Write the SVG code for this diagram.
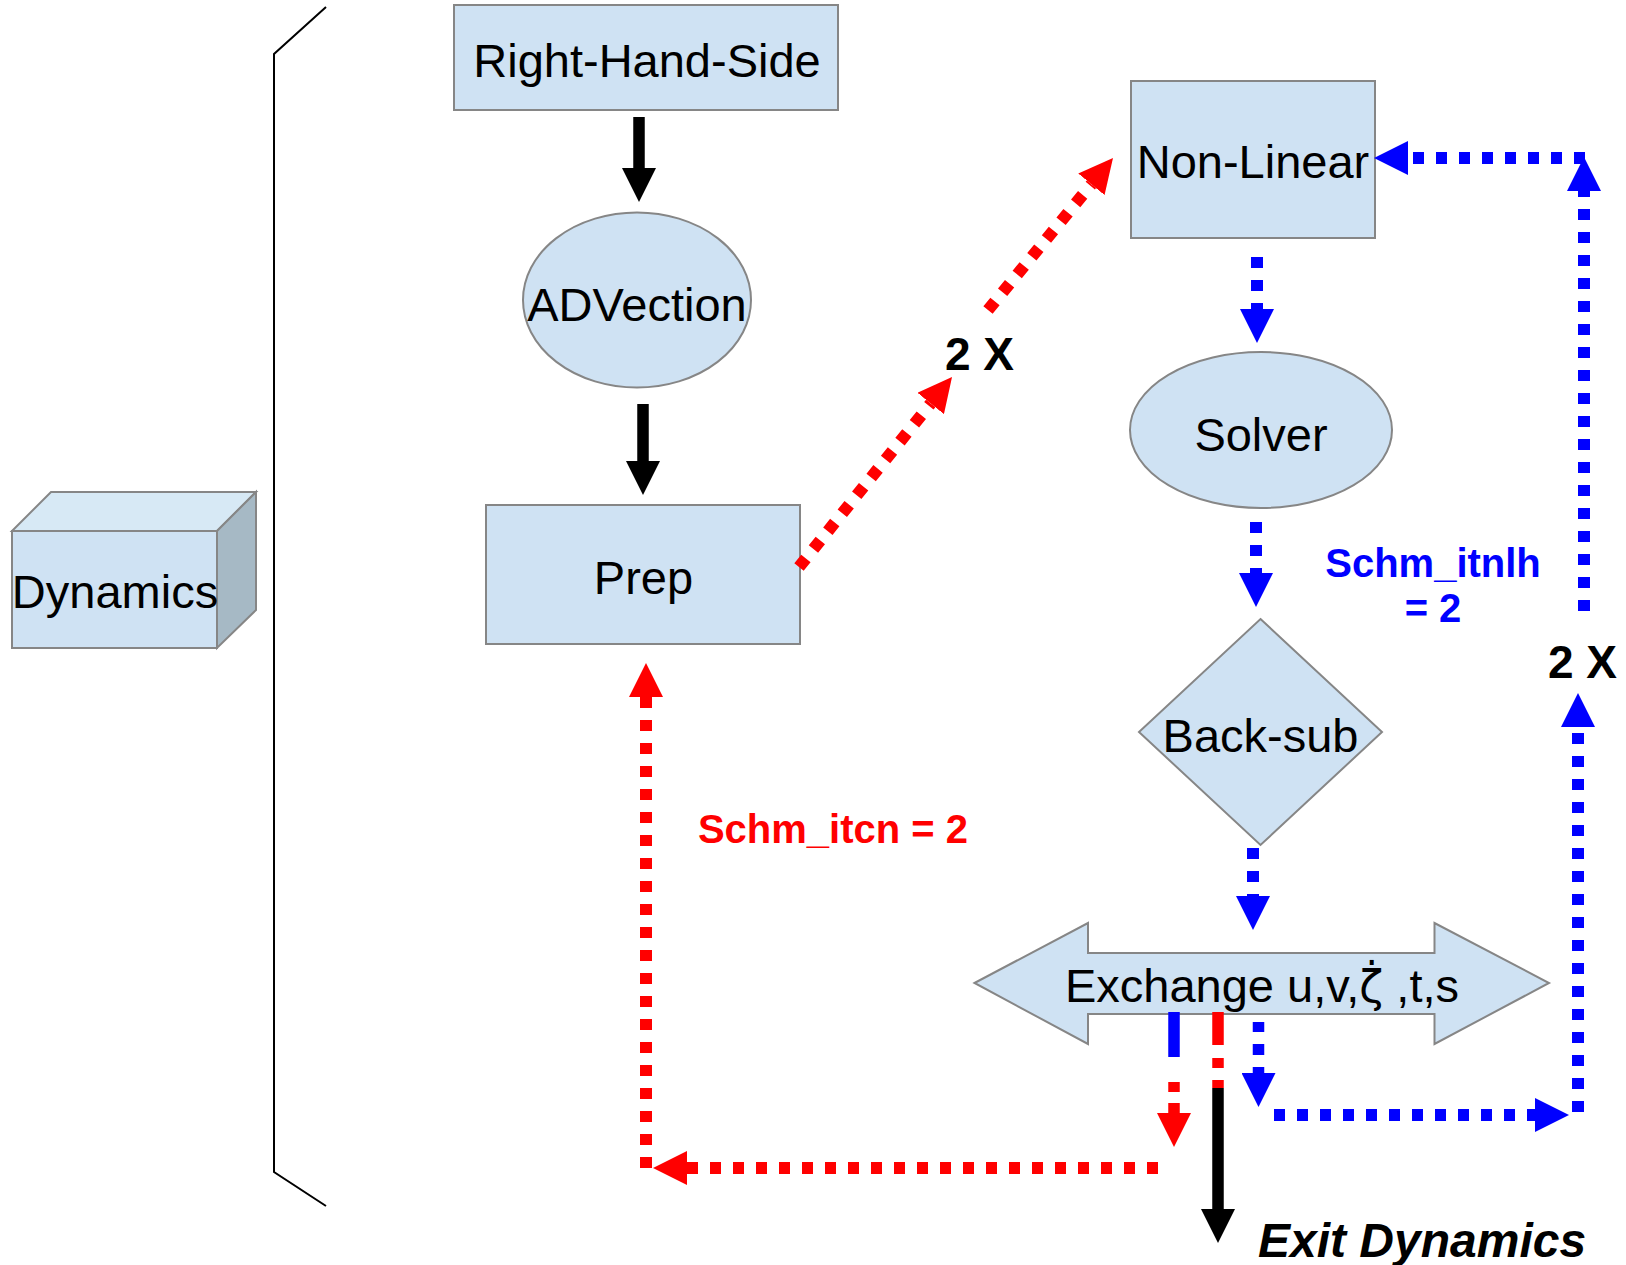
<svg xmlns="http://www.w3.org/2000/svg" width="1626" height="1265" viewBox="0 0 1626 1265">
<style>
.node{fill:#cfe2f3;stroke:#868686;stroke-width:2}
.lbl{font-family:"Liberation Sans",Arial,sans-serif;font-size:47px;fill:#000;text-anchor:middle}
.bold{font-family:"Liberation Sans",Arial,sans-serif;font-weight:bold;text-anchor:middle}
.blk{stroke:#000;stroke-width:11.5;fill:none}
.red{stroke:#ff0000;stroke-width:12;fill:none;stroke-dasharray:11 12}
.blu{stroke:#0000ff;stroke-width:12;fill:none;stroke-dasharray:11 12}
</style>
<defs>
<marker id="hk" viewBox="0 0 34 34" refX="0" refY="17" markerWidth="34" markerHeight="34" markerUnits="userSpaceOnUse" orient="auto"><path d="M0,0 L34,17 L0,34 z" fill="#000"/></marker>
<marker id="hr" viewBox="0 0 34 34" refX="0" refY="17" markerWidth="34" markerHeight="34" markerUnits="userSpaceOnUse" orient="auto"><path d="M0,0 L34,17 L0,34 z" fill="#ff0000"/></marker>
<marker id="hb" viewBox="0 0 34 34" refX="0" refY="17" markerWidth="34" markerHeight="34" markerUnits="userSpaceOnUse" orient="auto"><path d="M0,0 L34,17 L0,34 z" fill="#0000ff"/></marker>
</defs>
<rect width="1626" height="1265" fill="#fff"/>

<!-- bracket -->
<path d="M326,7 L274,54 L274,1172 L326,1206" fill="none" stroke="#000" stroke-width="2"/>

<g id="dynamics">
<polygon points="12,531 51,492 256,492 217,531" fill="#d7e9f5" stroke="#868686" stroke-width="2"/>
<polygon points="217,531 256,492 256,610 217,648" fill="#a6b9c5" stroke="#868686" stroke-width="2"/>
<rect x="12" y="531" width="205" height="117" class="node"/>
<text x="115" y="608" class="lbl">Dynamics</text>
</g>

<g id="rhs">
<rect x="454" y="5" width="384" height="105" class="node"/>
<text x="647" y="77" class="lbl">Right-Hand-Side</text>
</g>

<g id="advection">
<ellipse cx="637" cy="300" rx="114" ry="87.5" class="node"/>
<text x="637" y="321" class="lbl">ADVection</text>
</g>

<g id="prep">
<rect x="486" y="505" width="314" height="139" class="node"/>
<text x="643.5" y="594" class="lbl">Prep</text>
</g>

<g id="nonlinear">
<rect x="1131" y="81" width="244" height="157" class="node"/>
<text x="1253" y="178" class="lbl">Non-Linear</text>
</g>

<g id="solver">
<ellipse cx="1261" cy="430" rx="131" ry="78" class="node"/>
<text x="1261" y="451" class="lbl">Solver</text>
</g>

<g id="backsub">
<polygon points="1260.5,619 1382,732 1260.5,845 1139,732" class="node"/>
<text x="1260.5" y="752" class="lbl">Back-sub</text>
</g>

<g id="exchange">
<polygon points="974.5,983 1088,923 1088,953 1434.5,953 1434.5,923 1549,983 1434.5,1044 1434.5,1014 1088,1014 1088,1044" class="node"/>
<text x="1262" y="1002" class="lbl">Exchange u,v,<tspan font-family="'DejaVu Sans',sans-serif" font-size="44">ζ̇</tspan> ,t,s</text>
</g>

<g id="connectors">
<path d="M639,117 L639,168" class="blk" marker-end="url(#hk)"/>
<path d="M643,404 L643,461" class="blk" marker-end="url(#hk)"/>
<path d="M799,567 L930.7,403.5" class="red" marker-end="url(#hr)"/>
<path d="M988,310 L1091.4,184.3" class="red" marker-end="url(#hr)"/>
<path d="M1257,257 L1257,309" class="blu" marker-end="url(#hb)"/>
<path d="M1256,522 L1256,573" class="blu" marker-end="url(#hb)"/>
<path d="M1253,848 L1253,896" class="blu" marker-end="url(#hb)"/>
<path d="M1584,611 L1584,191" class="blu" marker-end="url(#hb)"/>
<path d="M1585,158 L1408,158" class="blu" marker-end="url(#hb)"/>
<path d="M1174,1012 L1174,1057" stroke="#0000ff" stroke-width="11.5" fill="none"/>
<path d="M1218,1088 L1218,1209" class="blk" marker-end="url(#hk)"/>
<path d="M1218,1012 L1218,1088" stroke="#ff0000" stroke-width="11.5" fill="none" stroke-dasharray="33 13 10 12 8 100"/>
<path d="M1174,1082 L1174,1113" stroke="#ff0000" stroke-width="11.5" fill="none" stroke-dasharray="10 11" marker-end="url(#hr)"/>
<path d="M1258.5,1022 L1258.5,1073" stroke="#0000ff" stroke-width="11.5" fill="none" stroke-dasharray="10 12 11 12" marker-end="url(#hb)"/>
<path d="M1274,1115 L1535,1115" class="blu" marker-end="url(#hb)"/>
<path d="M1578,1112 L1578,727" class="blu" marker-end="url(#hb)"/>
<path d="M1158,1168 L687,1168" class="red" marker-end="url(#hr)"/>
<path d="M646,1168 L646,697" class="red" marker-end="url(#hr)"/>
</g>

<g id="labels">
<text x="979.5" y="370" class="bold" font-size="46">2 X</text>
<text x="1582.5" y="678" class="bold" font-size="46">2 X</text>
<text x="833" y="843" class="bold" font-size="40" fill="#ff0000">Schm_itcn = 2</text>
<text x="1433" y="577" class="bold" font-size="40" fill="#0000ff">Schm_itnlh</text>
<text x="1433" y="622" class="bold" font-size="40" fill="#0000ff">= 2</text>
<text x="1258" y="1257" font-family="'Liberation Sans',Arial,sans-serif" font-weight="bold" font-style="italic" font-size="48">Exit Dynamics</text>
</g>
</svg>
